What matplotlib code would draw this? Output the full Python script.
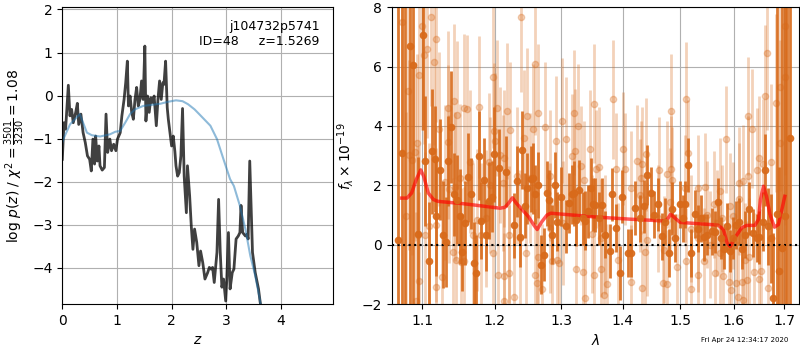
import matplotlib
matplotlib.use("Agg")
import matplotlib.pyplot as plt
from matplotlib.ticker import NullLocator

# p(z) curves
pz_z = [0.00, 0.03, 0.06, 0.11, 0.14, 0.17, 0.20, 0.245, 0.275, 0.30, 0.34, 0.38, 0.42,
        0.46, 0.50, 0.53, 0.56, 0.59, 0.61, 0.64, 0.67, 0.69, 0.73, 0.77, 0.80, 0.83,
        0.87, 0.90, 0.94, 0.98, 1.01, 1.06, 1.09, 1.13, 1.16, 1.19, 1.21, 1.24, 1.27,
        1.30, 1.33, 1.36, 1.39, 1.42, 1.45, 1.48, 1.51, 1.53, 1.56, 1.59, 1.62, 1.65,
        1.68, 1.72, 1.75, 1.78, 1.81, 1.84, 1.86, 1.89, 1.92, 1.94, 1.97, 2.00, 2.03,
        2.06, 2.08, 2.11, 2.14, 2.17, 2.20, 2.23, 2.27, 2.29, 2.33, 2.36, 2.39, 2.42,
        2.46, 2.50, 2.53, 2.57, 2.61, 2.66, 2.69, 2.72, 2.75, 2.78, 2.83, 2.86, 2.89,
        2.92, 2.95, 2.99, 3.01, 3.04, 3.07, 3.11, 3.14, 3.18, 3.22, 3.25, 3.27, 3.30,
        3.35, 3.38, 3.40, 3.43, 3.48, 3.53, 3.59, 3.62, 3.66]
pz_log = [-1.48, -0.63, -0.78, 0.24, -0.47, -0.32, -0.63, -0.39, -0.18, -0.67, -0.43, -0.86,
          -1.09, -1.40, -1.48, -1.75, -1.01, -1.59, -0.94, -1.52, -1.17, -1.63, -1.73, -1.67,
          -0.43, -1.32, -1.01, -1.28, -1.13, -1.28, -1.01, -0.86, -0.47, -0.09, 0.30, 0.80,
          -0.24, -0.01, -0.39, -0.55, -0.09, 0.19, -0.24, -0.09, 0.34, -0.09, 1.15, -0.59,
          -0.01, -0.39, -0.05, -0.16, -0.01, -0.70, -0.09, 0.34, -0.09, 0.30, 0.26, 0.80,
          -0.28, -0.55, -0.86, -1.17, -0.94, -1.30, -1.63, -1.87, -1.79, -1.40, -0.30,
          -1.87, -2.72, -1.63, -2.33, -3.03, -3.57, -3.10, -3.41, -3.95, -3.61, -3.88,
          -4.26, -4.11, -3.99, -4.03, -3.99, -4.34, -3.64, -2.41, -3.64, -4.45, -4.26,
          -4.77, -4.26, -3.18, -4.49, -4.11, -4.03, -3.33, -3.26, -3.18, -2.55, -3.18,
          -3.26, -3.22, -3.33, -1.52, -3.64, -4.11, -4.49, -4.79, -5.10]

prior_z = [0.00, 0.02, 0.14, 0.32, 0.45, 0.54, 0.69, 0.87, 0.97, 1.06, 1.15, 1.24, 1.33,
           1.48, 1.79, 1.95, 2.08, 2.20, 2.30, 2.42, 2.52, 2.71, 2.83, 2.95, 3.07, 3.14,
           3.25, 3.35, 3.44, 3.53, 3.62, 3.66]
prior_log = [-1.09, -1.01, -0.67, -0.43, -0.86, -0.92, -0.95, -0.90, -0.84, -0.82, -0.63,
             -0.43, -0.32, -0.24, -0.19, -0.14, -0.11, -0.13, -0.20, -0.32, -0.45, -0.70,
             -1.01, -1.48, -1.94, -2.10, -2.56, -3.10, -3.72, -4.18, -4.77, -5.10]

# binned spectrum
bin_wave = [1.069, 1.073, 1.078, 1.084, 1.088, 1.094, 1.101, 1.104, 1.109, 1.113, 1.117,
            1.119, 1.124, 1.128, 1.132, 1.135, 1.139, 1.143, 1.147, 1.151, 1.154, 1.158,
            1.162, 1.166, 1.170, 1.174, 1.177, 1.181, 1.185, 1.188, 1.192, 1.196, 1.199,
            1.207, 1.216, 1.228, 1.232, 1.237, 1.240, 1.245, 1.248, 1.253, 1.257, 1.260,
            1.265, 1.269, 1.273, 1.278, 1.281, 1.285, 1.290, 1.294, 1.300, 1.307, 1.312,
            1.317, 1.320, 1.324, 1.328, 1.334, 1.338, 1.343, 1.348, 1.350, 1.354, 1.360,
            1.366, 1.371, 1.379, 1.382, 1.389, 1.395, 1.398, 1.408, 1.413, 1.420, 1.429,
            1.436, 1.442, 1.448, 1.454, 1.461, 1.467, 1.473, 1.480, 1.486, 1.491, 1.499,
            1.505, 1.509, 1.514, 1.520, 1.527, 1.533, 1.538, 1.543, 1.550, 1.558, 1.564,
            1.570, 1.575, 1.581, 1.586, 1.592, 1.598, 1.605, 1.610, 1.615, 1.621, 1.630,
            1.637, 1.645, 1.650, 1.658, 1.662, 1.668, 1.673, 1.678, 1.685, 1.690, 1.695,
            1.701, 1.706, 1.711]
bin_flux = [0.17, 3.08, 9.50, 6.71, 6.06, 0.36, 7.07, 2.82, -0.56, 3.15, 2.89, 0.95, 2.52,
            0.34, 0.09, 2.82, 3.97, 1.70, 1.51, 0.95, -0.25, 0.73, 2.28, 1.72, -0.62, -0.96,
            3.00, 0.81, 2.18, 0.31, 1.48, 1.62, 3.04, 2.60, 2.46, 0.65, 2.13, 0.25, 3.19,
            1.32, 1.90, 2.21, 2.24, 1.70, 2.01, -0.67, -0.34, 1.73, 1.51, 0.34, 2.01, 0.78,
            1.62, 0.62, 1.40, 1.70, 1.73, 0.84, 1.85, 0.89, 0.81, 1.12, 1.92, 1.36, 1.34,
            0.89, 1.34, 0.34, -0.22, 1.70, 0.56, -0.95, 1.62, -0.28, -0.28, 1.23, 0.89, 1.29,
            2.35, 1.73, 1.01, 1.36, 0.28, 0.78, -0.28, 1.21, 0.22, 1.36, 0.89, 1.36, 2.68,
            -0.28, 1.03, 0.54, 0.89, 0.25, 0.34, 0.45, 0.43, 1.45, 0.22, -0.13, 0.62, -0.22,
            0.22, 0.67, 0.78, -0.13, 0.34, 1.21, 0.39, 0.22, 0.25, 0.78, 2.52, 0.62, 0.22,
            -1.81, 1.03, -0.89, -0.11, 0.98, -2.60, 3.58]
bin_err = [12, 12, 12, 12, 12, 2.6, 3.2, 2.2, 2.0, 2.1, 1.8, 2.0, 1.7, 1.8, 1.5, 1.5, 1.9,
           1.4, 1.5, 1.6, 1.3, 1.4, 1.5, 1.2, 1.4, 1.3, 1.5, 1.3, 1.4, 1.2, 1.3, 1.2, 1.6,
           1.3, 1.2, 1.1, 1.2, 1.0, 1.3, 1.1, 1.2, 1.1, 1.2, 1.0, 1.1, 1.0, 0.9, 1.1, 1.0,
           1.0, 1.1, 1.0, 1.0, 0.9, 1.0, 1.0, 1.1, 0.9, 1.0, 0.9, 1.0, 0.9, 1.0, 0.9, 0.9,
           0.9, 0.9, 0.8, 0.9, 0.9, 0.8, 0.9, 0.9, 0.8, 0.8, 0.9, 0.8, 0.9, 1.0, 0.9, 0.8,
           0.9, 0.8, 0.8, 0.8, 0.9, 0.8, 0.8, 0.8, 0.8, 0.9, 0.8, 0.8, 0.8, 0.8, 0.8, 0.7,
           0.8, 0.7, 0.8, 0.7, 0.7, 0.8, 0.7, 0.7, 0.8, 0.8, 0.7, 0.8, 0.9, 0.8, 0.8, 0.9,
           1.0, 1.2, 1.3, 1.5, 2.2, 7.0, 3.5, 12, 12, 12, 12]

# unbinned spectrum
raw_wave = [1.074, 1.081, 1.096, 1.100, 1.102, 1.106, 1.112, 1.115, 1.119, 1.134, 1.143,
            1.147, 1.156, 1.161, 1.177, 1.197, 1.199, 1.123, 1.134, 1.087, 1.083, 1.093,
            1.091, 1.079, 1.095, 1.103, 1.109, 1.118, 1.130, 1.136, 1.144, 1.151, 1.165,
            1.175, 1.181, 1.192, 1.194, 1.197, 1.142, 1.146, 1.152, 1.156, 1.127, 1.118,
            1.096, 1.092, 1.187, 1.169,
            1.238, 1.260, 1.265, 1.247, 1.218, 1.222, 1.204, 1.257, 1.275, 1.292, 1.302,
            1.307, 1.320, 1.327, 1.352, 1.322, 1.346, 1.243, 1.201, 1.208, 1.214, 1.317,
            1.331, 1.355, 1.336, 1.283, 1.252, 1.233, 1.212, 1.221, 1.237, 1.283, 1.303,
            1.349, 1.246, 1.264, 1.293, 1.297, 1.285, 1.324, 1.334, 1.352, 1.205, 1.213,
            1.221, 1.260, 1.270, 1.262, 1.229, 1.337, 1.213,
            1.384, 1.483, 1.511, 1.400, 1.424, 1.432, 1.440, 1.463, 1.477, 1.484, 1.514,
            1.388, 1.361, 1.404, 1.414, 1.431, 1.486, 1.533, 1.509, 1.429, 1.482, 1.461,
            1.363, 1.370, 1.442, 1.520, 1.533, 1.437, 1.471, 1.511, 1.363, 1.374, 1.413,
            1.470, 1.477, 1.494, 1.520, 1.533, 1.368, 1.432, 1.392,
            1.666, 1.662, 1.683, 1.691, 1.628, 1.635, 1.584, 1.691, 1.649, 1.658, 1.673,
            1.618, 1.628, 1.645, 1.610, 1.573, 1.562, 1.546, 1.592, 1.610, 1.549, 1.567,
            1.577, 1.598, 1.555, 1.574, 1.543, 1.621, 1.630, 1.580, 1.590, 1.605, 1.615,
            1.625, 1.639, 1.654, 1.649, 1.564, 1.595, 1.608, 1.668, 1.618, 1.701, 1.702]
raw_flux = [7.52, 5.17, 5.73, 7.38, 6.40, 6.60, 7.66, 6.17, 6.94, 4.61, 4.83, 4.38, 4.59,
            4.56, 4.64, 5.65, 3.83, 3.89, 3.45, 2.85, 3.02, 3.41, 3.13, 0.98, 0.34, 0.34,
            0.62, 0.67, 2.10, 1.88, 1.96, 2.24, 2.80, 0.84, 0.34, 2.80, 2.01, -0.28, -0.25,
            -0.50, -0.59, -0.56, -1.10, -1.43, -1.23, -1.90, 0.89, 0.34,
            7.66, 6.10, 4.45, 4.34, 4.50, 3.85, 4.61, 3.89, 3.96, 3.49, 4.18, 3.56, 4.45,
            3.99, 4.75, 3.15, 3.22, 3.58, 3.49, 3.02, 2.91, 2.99, 2.66, 2.55, 2.18, 2.33,
            2.24, 2.33, 2.07, 0.34, 0.22, 0.56, 0.73, 0.36, -0.28, -0.43, -0.50, -0.62,
            -0.54, -0.82, -0.93, -1.03, -1.03, -1.06, -0.95, -1.01, -1.51, -1.29, -1.77,
            -1.81, -1.90,
            4.90, 4.52, 4.92, 3.24, 2.82, 2.73, 3.04, 2.51, 2.37, 2.55, 3.08, 2.55, 2.63,
            2.55, 1.92, 2.26, 2.18, 1.90, 1.90, 1.66, 1.45, 0.89, 0.22, 0.34, 0.17, 0.54,
            0.22, -0.25, -0.17, -0.56, -0.81, -1.32, -1.25, -1.29, -1.32, -0.76, -1.51,
            -1.03, -1.71, -1.45, -0.50,
            6.47, 5.01, 4.79, 5.31, 4.34, 3.91, 3.55, 3.41, 2.91, 2.71, 2.80, 2.13, 2.33,
            2.52, 2.07, 1.81, 1.36, 1.96, 1.29, 1.54, 1.01, 0.73, 0.89, 0.98, 0.00, -0.28,
            -0.56, -0.50, -0.43, -1.06, -1.25, -1.29, -1.25, -1.19, -0.92, -0.89, -1.17,
            -0.95, -1.54, -1.77, -1.45, -1.88, 5.65, 7.36]
raw_err = [3.5, 3.5, 3.2, 3.5, 3.0, 3.0, 3.0, 2.8, 2.8, 2.6, 2.6, 2.5, 2.5, 2.5, 2.4, 2.4,
           2.3, 2.6, 2.6, 3.2, 3.2, 3.0, 3.0, 3.5, 3.0, 2.8, 2.8, 2.6, 2.6, 2.5, 2.5, 2.5,
           2.4, 2.4, 2.4, 2.3, 2.3, 2.3, 2.5, 2.5, 2.5, 2.5, 2.6, 2.6, 3.0, 3.0, 2.3, 2.4,
           2.5, 2.4, 2.3, 2.3, 2.3, 2.3, 2.3, 2.2, 2.2, 2.2, 2.1, 2.1, 2.1, 2.1, 2.0, 2.1,
           2.0, 2.3, 2.3, 2.3, 2.3, 2.1, 2.0, 2.0, 2.0, 2.2, 2.2, 2.3, 2.3, 2.3, 2.3, 2.2,
           2.1, 2.0, 2.2, 2.2, 2.1, 2.1, 2.1, 2.0, 2.0, 2.0, 2.3, 2.3, 2.3, 2.2, 2.2, 2.2,
           2.3, 2.0, 2.3,
           2.0, 1.9, 1.9, 1.9, 1.9, 1.9, 1.9, 1.8, 1.8, 1.8, 1.8, 1.9, 2.0, 1.9, 1.9, 1.9,
           1.8, 1.8, 1.8, 1.9, 1.8, 1.8, 2.0, 2.0, 1.9, 1.8, 1.8, 1.9, 1.8, 1.8, 2.0, 2.0,
           1.9, 1.8, 1.8, 1.8, 1.8, 1.8, 2.0, 1.9, 1.9,
           2.6, 2.4, 3.0, 3.5, 2.0, 2.0, 1.8, 3.5, 2.1, 2.2, 2.6, 1.9, 2.0, 2.1, 1.9, 1.8,
           1.8, 1.8, 1.8, 1.9, 1.8, 1.8, 1.8, 1.8, 1.8, 1.8, 1.8, 1.9, 2.0, 1.8, 1.8, 1.9,
           1.9, 2.0, 2.0, 2.1, 2.1, 1.8, 1.8, 1.9, 2.4, 1.9, 5.0, 5.0]

# best-fit model
model_wave = [1.073, 1.080, 1.086, 1.092, 1.098, 1.102, 1.108, 1.115, 1.121, 1.156, 1.208,
              1.215, 1.220, 1.226, 1.232, 1.250, 1.258, 1.263, 1.270, 1.278, 1.284, 1.357,
              1.412, 1.470, 1.476, 1.483, 1.491, 1.500, 1.570, 1.580, 1.587, 1.593, 1.600,
              1.615, 1.625, 1.641, 1.648, 1.652, 1.658, 1.664, 1.671, 1.680, 1.688, 1.695,
              1.701]
model_flux = [1.57, 1.57, 1.74, 2.19, 2.52, 2.30, 1.74, 1.52, 1.46, 1.38, 1.23, 1.26, 1.39,
              1.58, 1.39, 0.94, 0.66, 0.51, 0.77, 1.00, 1.06, 0.93, 0.86, 0.80, 0.83, 1.03,
              0.89, 0.75, 0.66, 0.51, 0.06, -0.07, 0.18, 0.57, 0.65, 0.65, 0.85, 1.52, 1.97,
              1.63, 1.02, 0.59, 0.68, 1.18, 1.63]

wave_ticks = [1.1, 1.2, 1.3, 1.4, 1.5, 1.6, 1.7]
SPEC_COLOR = "#d86a1a"

fig = plt.figure(figsize=(8, 3.5), dpi=100)

# left: redshift probability
ax = fig.add_axes([0.0779, 0.1314, 0.3388, 0.8477])
ax.plot(pz_z, pz_log, color="k", alpha=0.75, lw=2)
ax.plot(prior_z, prior_log, color="#1f77b4", alpha=0.5, lw=1.5)
ax.set_xlim(0, 4.96)
ax.set_ylim(-4.84, 2.05)
ax.set_xticks([0, 1, 2, 3, 4])
ax.set_yticks([-4, -3, -2, -1, 0, 1, 2])
ax.grid()
ax.set_xlabel(r"$z$")
ax.set_ylabel(r"log $p(z)$ / $\chi^2=\frac{3501}{3230}=1.08$")
ax.text(0.95, 0.957, "j104732p5741\nID=48     z=1.5269", transform=ax.transAxes,
        ha="right", va="top", fontsize=9)

# right: spectrum
ax2 = fig.add_axes([0.4896, 0.1314, 0.5092, 0.8477])
ax2.errorbar(raw_wave, raw_flux, yerr=raw_err, marker="o", ms=4.5, linestyle="none",
             color=SPEC_COLOR, alpha=0.3, elinewidth=2, capsize=0)
ax2.errorbar(bin_wave, bin_flux, yerr=bin_err, marker="o", ms=4.5, linestyle="none",
             color=SPEC_COLOR, alpha=0.9, elinewidth=2, capsize=0)
ax2.plot(model_wave, model_flux, color="red", alpha=0.65, lw=2.5)
ax2.axhline(0, color="k", linestyle=":", lw=1.5)
ax2.set_xscale("log")
ax2.set_xlim(1.0603, 1.7304)
ax2.set_ylim(-2, 8)
ax2.set_xticks(wave_ticks)
ax2.set_xticklabels([f"{w:.1f}" for w in wave_ticks])
ax2.xaxis.set_minor_locator(NullLocator())
ax2.grid()
ax2.set_xlabel(r"$\lambda$")
ax2.set_ylabel(r"$f_\lambda\times 10^{-19}$")

fig.text(0.985, 0.02, "Fri Apr 24 12:34:17 2020", ha="right", va="bottom", fontsize=5)

fig.savefig("out.png", dpi=100)
plt.close(fig)
